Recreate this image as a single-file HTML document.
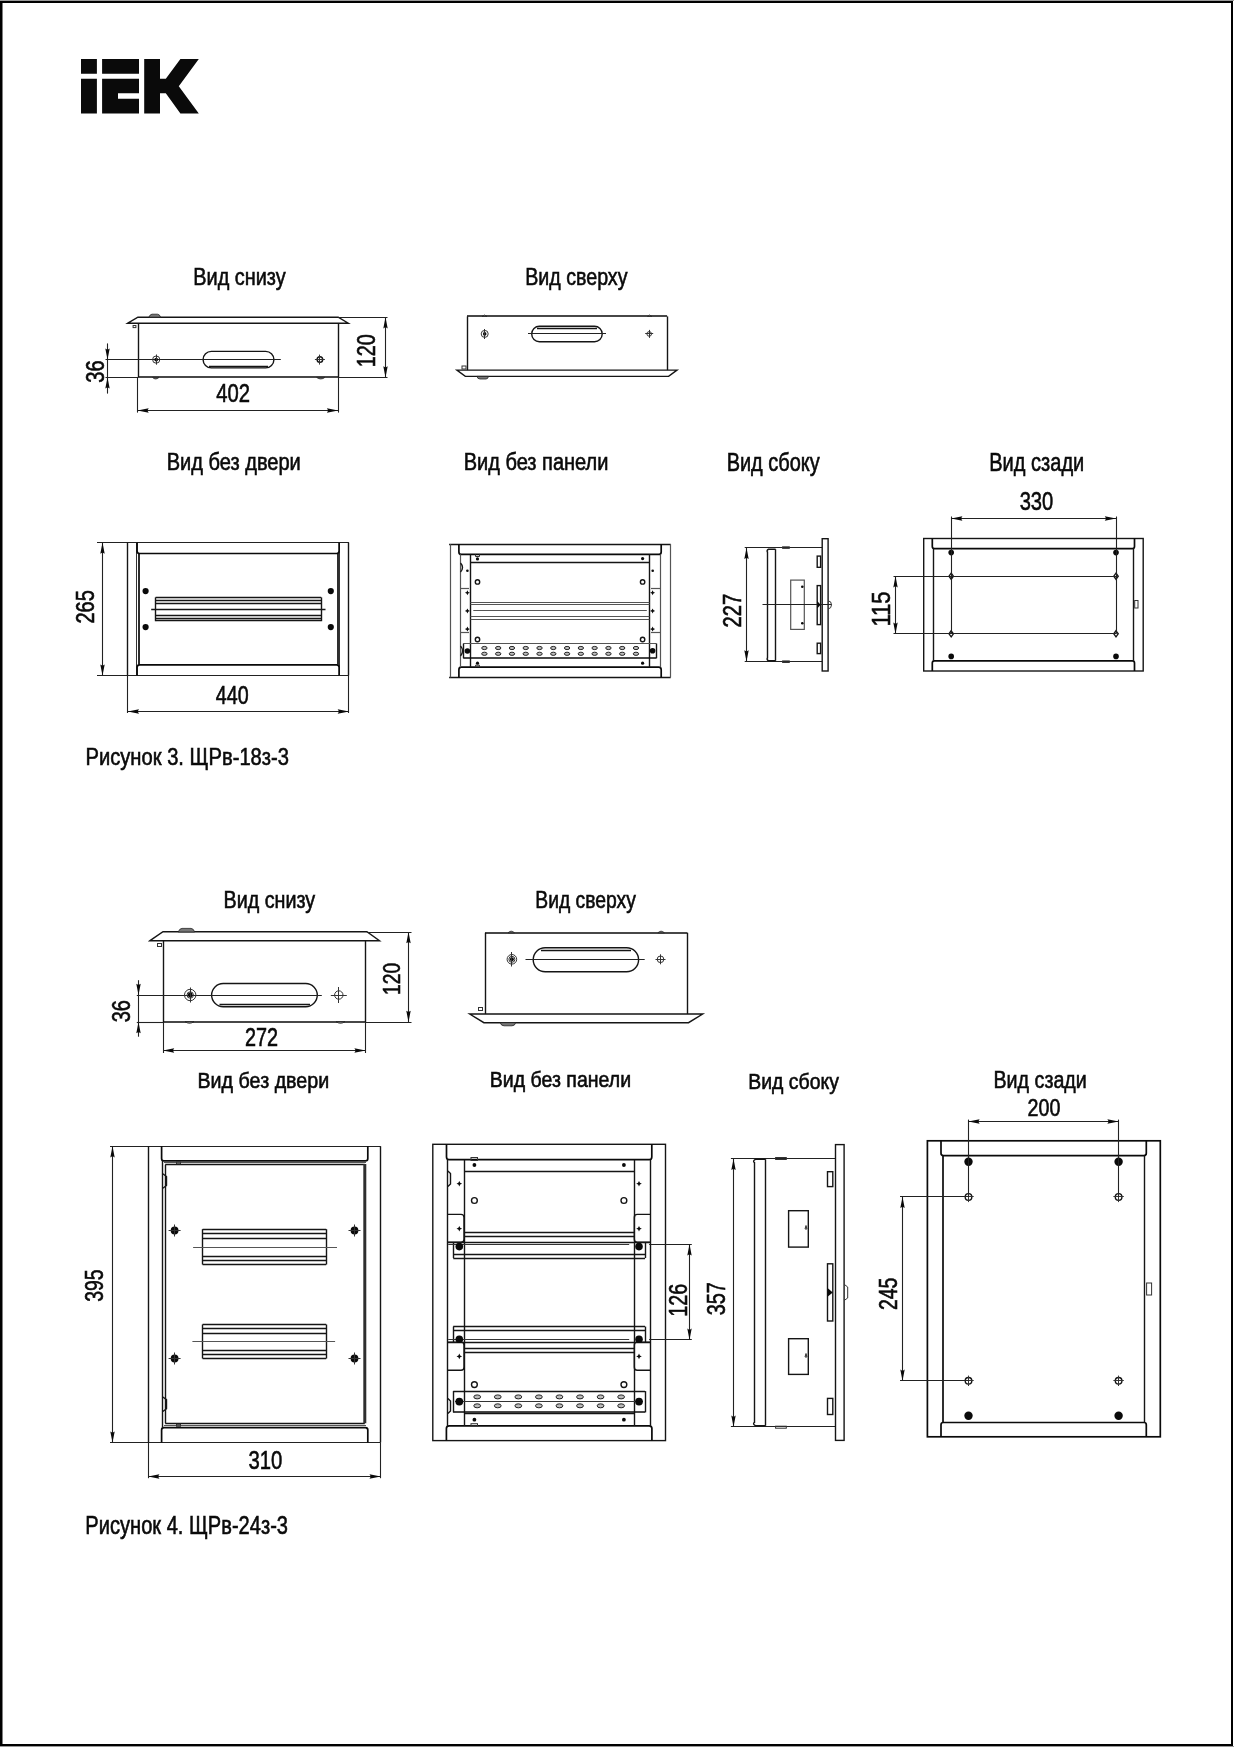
<!DOCTYPE html>
<html><head><meta charset="utf-8"><title>IEK ЩРв</title>
<style>
html,body{margin:0;padding:0;background:#fff;}
body{width:1234px;height:1747px;overflow:hidden;position:relative;}
svg{position:absolute;left:0;top:0;display:block;filter:grayscale(1);}
.k{fill:none;stroke:#0a0a0a;stroke-width:1.7;}
.n{fill:none;stroke:#151515;stroke-width:1.4;}
.g{fill:none;stroke:#333;stroke-width:1.0;}
.d{fill:none;stroke:#222;stroke-width:1.1;}
.fill{fill:#0a0a0a;stroke:none;}
.gf{fill:#777;stroke:#222;stroke-width:0.8;}
.o{fill:none;stroke:#555;stroke-width:1.2;}
.ov{fill:#bbb;stroke:#111;stroke-width:0.9;}
text{font-family:"Liberation Sans",sans-serif;fill:#0a0a0a;stroke:#0a0a0a;stroke-width:0.6;}
</style></head>
<body>
<svg width="1234" height="1747" viewBox="0 0 1234 1747">
<rect x="0" y="0" width="1234" height="1" fill="#999"/>
<rect x="0" y="1746" width="1234" height="1" fill="#999"/>
<rect x="0" y="1" width="1233" height="2" fill="#000"/>
<rect x="0" y="1744" width="1233" height="2" fill="#000"/>
<rect x="0" y="1" width="2.5" height="1745" fill="#000"/>
<rect x="1231" y="1" width="2" height="1745" fill="#000"/>
<path class="fill" d="M81,59H96.9V73.7H81Z M81,78.8H96.9V113.5H81Z M102.1,59H139V73.7H102.1Z M102.1,78.8H139V93.2H118V98.7H139V113.5H102.1Z M144.2,59H160V78.8H165.8L180.4,59H198.8L178.8,86.3L198.8,113.5H180.4L165.8,93.2H160V113.5H144.2Z"/>
<path class="n" d="M127.8,323.2 L137.9,317.2 H338.2 L348.3,323.2 Z"/>
<path class="gf" d="M148.9,317.2 Q150,314.2 152,314.2 H157.5 Q159.6,314.2 160.6,317.2 Z"/>
<line class="n" x1="138.5" y1="323.2" x2="138.5" y2="377.4"/>
<line class="n" x1="338.5" y1="323.2" x2="338.5" y2="377.4"/>
<line class="k" x1="138.1" y1="377" x2="338.1" y2="377"/>
<rect class="g" x="133.1" y="325.5" width="2.8" height="2.1"/>
<path class="gf" d="M152.5,377.4 Q155.7,380.5 159,377.4 Z"/>
<path class="gf" d="M316.6,377.4 Q320.7,380.5 324.9,377.4 Z"/>
<rect class="n" x="203.1" y="351.4" width="70.8" height="16.5" rx="8.2"/>
<line class="n" x1="209" y1="366.5" x2="268" y2="366.5"/>
<line class="d" x1="105.5" y1="359.5" x2="280.8" y2="359.5"/>
<circle class="g" cx="156.2" cy="359.6" r="3.6"/>
<circle class="fill" cx="156.2" cy="359.6" r="1.9"/>
<line class="g" x1="156.5" y1="354.5" x2="156.5" y2="364.7"/>
<circle class="n" cx="319.9" cy="359.6" r="2.8"/>
<line class="g" x1="314.9" y1="359.5" x2="324.9" y2="359.5"/>
<line class="g" x1="319.5" y1="354.6" x2="319.5" y2="364.6"/>
<line class="d" x1="107.5" y1="343.4" x2="107.5" y2="393.6"/>
<polygon class="fill" points="107.5,359.6 105.3,348.4 107.5,349.7 109.7,348.4"/>
<polygon class="fill" points="107.5,377.4 105.3,388.6 107.5,387.3 109.7,388.6"/>
<line class="d" x1="105.5" y1="377.5" x2="138.1" y2="377.5"/>
<line class="d" x1="385.5" y1="317.2" x2="385.5" y2="377.4"/>
<polygon class="fill" points="385.5,317.2 383.3,328.4 385.5,327.1 387.7,328.4"/>
<polygon class="fill" points="385.5,377.4 383.3,366.2 385.5,367.5 387.7,366.2"/>
<line class="d" x1="338.2" y1="317.5" x2="387.5" y2="317.5"/>
<line class="d" x1="338.1" y1="377.5" x2="387.5" y2="377.5"/>
<line class="d" x1="137.5" y1="410.5" x2="338.1" y2="410.5"/>
<polygon class="fill" points="137.5,410.5 148.7,408.3 147.4,410.5 148.7,412.7"/>
<polygon class="fill" points="338.1,410.5 326.9,408.3 328.2,410.5 326.9,412.7"/>
<line class="d" x1="137.5" y1="377.4" x2="137.5" y2="412.6"/>
<line class="d" x1="338.5" y1="377.4" x2="338.5" y2="412.6"/>
<line class="n" x1="467.5" y1="316.4" x2="467.5" y2="370.1"/>
<line class="n" x1="667.5" y1="316.4" x2="667.5" y2="370.1"/>
<line class="k" x1="467" y1="316" x2="667.1" y2="316"/>
<path class="n" d="M456.9,370.1 H677 L668.6,376.4 H465.3 Z"/>
<path class="gf" d="M482,316.4 Q484.5,313.6 487,316.4 Z"/>
<path class="gf" d="M647.5,316.4 Q649.6,313.6 651.8,316.4 Z"/>
<path class="gf" d="M476.9,376.4 Q477.5,379 480,379 H486 Q488,379 488.5,376.4 Z"/>
<rect class="g" x="462" y="366" width="4" height="3"/>
<rect class="n" x="531.7" y="326.3" width="70.5" height="15.4" rx="7.7"/>
<line class="n" x1="537" y1="328.5" x2="597" y2="328.5"/>
<line class="d" x1="528" y1="333.5" x2="606" y2="333.5"/>
<circle class="g" cx="484.7" cy="333.9" r="3.5"/>
<circle class="fill" cx="484.7" cy="333.9" r="1.8"/>
<line class="g" x1="484.5" y1="329" x2="484.5" y2="339"/>
<circle class="g" cx="649.2" cy="333.9" r="2.3"/>
<line class="g" x1="645.2" y1="333.5" x2="653.2" y2="333.5"/>
<line class="g" x1="649.5" y1="329.9" x2="649.5" y2="337.9"/>
<line class="d" x1="97" y1="542.5" x2="348.9" y2="542.5"/>
<line class="d" x1="97" y1="675.5" x2="348.9" y2="675.5"/>
<line class="n" x1="127.5" y1="542.5" x2="127.5" y2="675.6"/>
<line class="n" x1="348.5" y1="542.5" x2="348.5" y2="675.6"/>
<line class="g" x1="136.5" y1="542.5" x2="136.5" y2="675.6"/>
<line class="g" x1="339.5" y1="542.5" x2="339.5" y2="675.6"/>
<path class="k" d="M137.1,542.5 V551 Q137.1,553.5 139.6,553.5 H336.6 Q339.1,553.5 339.1,551 V542.5"/>
<path class="k" d="M137.1,675.6 V667.3 Q137.1,664.8 139.6,664.8 H336.6 Q339.1,664.8 339.1,667.3 V675.6"/>
<line class="k" x1="139" y1="553.5" x2="139" y2="664.8"/>
<line class="k" x1="338" y1="553.5" x2="338" y2="664.8"/>
<circle class="fill" cx="145.6" cy="591.1" r="3.1"/>
<circle class="fill" cx="330.8" cy="591.1" r="3.1"/>
<circle class="fill" cx="145.6" cy="627.1" r="3.1"/>
<circle class="fill" cx="330.8" cy="627.1" r="3.1"/>
<line class="n" x1="155.5" y1="597.4" x2="155.5" y2="621.2"/>
<line class="n" x1="321.5" y1="597.4" x2="321.5" y2="621.2"/>
<line class="n" x1="155.6" y1="597.5" x2="321.2" y2="597.5"/>
<line class="n" x1="155.6" y1="600.5" x2="321.2" y2="600.5"/>
<line class="n" x1="155.6" y1="603.5" x2="321.2" y2="603.5"/>
<line class="n" x1="155.6" y1="615.5" x2="321.2" y2="615.5"/>
<line class="n" x1="155.6" y1="618.5" x2="321.2" y2="618.5"/>
<line class="n" x1="155.6" y1="620.5" x2="321.2" y2="620.5"/>
<line class="n" x1="151.2" y1="609.5" x2="325.5" y2="609.5"/>
<line class="d" x1="102.5" y1="542.5" x2="102.5" y2="675.6"/>
<polygon class="fill" points="102.5,542.5 100.3,553.7 102.5,552.4 104.7,553.7"/>
<polygon class="fill" points="102.5,675.6 100.3,664.4 102.5,665.7 104.7,664.4"/>
<line class="d" x1="127.8" y1="711.5" x2="348.9" y2="711.5"/>
<polygon class="fill" points="127.8,711.5 139,709.3 137.7,711.5 139,713.7"/>
<polygon class="fill" points="348.9,711.5 337.7,709.3 339,711.5 337.7,713.7"/>
<line class="d" x1="127.5" y1="675.6" x2="127.5" y2="713"/>
<line class="d" x1="348.5" y1="675.6" x2="348.5" y2="713"/>
<line class="n" x1="449.1" y1="544.5" x2="670.7" y2="544.5"/>
<line class="n" x1="449.1" y1="677.5" x2="670.7" y2="677.5"/>
<line class="o" x1="450.5" y1="544.2" x2="450.5" y2="677.4"/>
<line class="o" x1="670.5" y1="544.2" x2="670.5" y2="677.4"/>
<path class="k" d="M458.9,544.2 V551.9 Q458.9,554.4 461.4,554.4 H658.7 Q661.2,554.4 661.2,551.9 V544.2"/>
<path class="k" d="M458.9,677.4 V669.7 Q458.9,667.2 461.4,667.2 H658.7 Q661.2,667.2 661.2,669.7 V677.4"/>
<line class="o" x1="460.5" y1="554.4" x2="460.5" y2="667.2"/>
<line class="o" x1="660.5" y1="554.4" x2="660.5" y2="667.2"/>
<line class="n" x1="470.5" y1="554.4" x2="470.5" y2="667.2"/>
<line class="n" x1="649.5" y1="554.4" x2="649.5" y2="667.2"/>
<line class="n" x1="470.5" y1="562.5" x2="649.5" y2="562.5"/>
<line class="o" x1="460.1" y1="588.5" x2="469" y2="588.5"/>
<line class="o" x1="651" y1="588.5" x2="660.3" y2="588.5"/>
<line class="o" x1="460.1" y1="632.5" x2="469" y2="632.5"/>
<line class="o" x1="651" y1="632.5" x2="660.3" y2="632.5"/>
<line class="o" x1="470.5" y1="602.5" x2="649.5" y2="602.5"/>
<line class="o" x1="470.5" y1="604.5" x2="649.5" y2="604.5"/>
<line class="o" x1="470.5" y1="616.5" x2="649.5" y2="616.5"/>
<line class="o" x1="470.5" y1="619.5" x2="649.5" y2="619.5"/>
<line class="o" x1="473.3" y1="610.5" x2="646.8" y2="610.5"/>
<circle class="n" cx="477.5" cy="581.9" r="2.2"/>
<circle class="n" cx="642.6" cy="581.9" r="2.2"/>
<circle class="n" cx="477.5" cy="639.5" r="2.2"/>
<circle class="n" cx="642.6" cy="639.5" r="2.2"/>
<circle class="fill" cx="477.5" cy="558.9" r="1.6"/>
<circle class="fill" cx="642.6" cy="558.6" r="1.6"/>
<circle class="fill" cx="477.5" cy="663.2" r="1.6"/>
<circle class="fill" cx="642.6" cy="663.2" r="1.6"/>
<circle class="fill" cx="467.4" cy="570.7" r="1.3"/>
<circle class="fill" cx="652.7" cy="570.8" r="1.3"/>
<path class="g" d="M475.5,554.4 V556.5 H479.5 V554.4"/>
<path class="g" d="M475.5,667.2 V665.2 H479.5 V667.2"/>
<path class="fill" d="M467.4,590.3 L468.22,591.97 L469.9,592.8 L468.22,593.62 L467.4,595.3 L466.57,593.62 L464.9,592.8 L466.57,591.97 Z"/>
<path class="fill" d="M467.4,608.4 L468.22,610.07 L469.9,610.9 L468.22,611.73 L467.4,613.4 L466.57,611.73 L464.9,610.9 L466.57,610.07 Z"/>
<path class="fill" d="M467.4,626.6 L468.22,628.27 L469.9,629.1 L468.22,629.93 L467.4,631.6 L466.57,629.93 L464.9,629.1 L466.57,628.27 Z"/>
<path class="fill" d="M652.6,590.3 L653.43,591.97 L655.1,592.8 L653.43,593.62 L652.6,595.3 L651.77,593.62 L650.1,592.8 L651.77,591.97 Z"/>
<path class="fill" d="M652.6,608.4 L653.43,610.07 L655.1,610.9 L653.43,611.73 L652.6,613.4 L651.77,611.73 L650.1,610.9 L651.77,610.07 Z"/>
<path class="fill" d="M652.6,626.6 L653.43,628.27 L655.1,629.1 L653.43,629.93 L652.6,631.6 L651.77,629.93 L650.1,629.1 L651.77,628.27 Z"/>
<line class="o" x1="463.3" y1="643.5" x2="656.5" y2="643.5"/>
<line class="k" x1="463.3" y1="658" x2="656.5" y2="658"/>
<line class="n" x1="463.5" y1="643.6" x2="463.5" y2="658.2"/>
<line class="n" x1="656.5" y1="643.6" x2="656.5" y2="658.2"/>
<circle class="fill" cx="467.4" cy="651" r="2.8"/>
<circle class="fill" cx="652.6" cy="650.8" r="2.8"/>
<ellipse class="ov" cx="484.4" cy="648" rx="2.7" ry="1.6"/>
<ellipse class="ov" cx="484.4" cy="653.8" rx="2.7" ry="1.6"/>
<ellipse class="ov" cx="498.18" cy="648" rx="2.7" ry="1.6"/>
<ellipse class="ov" cx="498.18" cy="653.8" rx="2.7" ry="1.6"/>
<ellipse class="ov" cx="511.96" cy="648" rx="2.7" ry="1.6"/>
<ellipse class="ov" cx="511.96" cy="653.8" rx="2.7" ry="1.6"/>
<ellipse class="ov" cx="525.74" cy="648" rx="2.7" ry="1.6"/>
<ellipse class="ov" cx="525.74" cy="653.8" rx="2.7" ry="1.6"/>
<ellipse class="ov" cx="539.52" cy="648" rx="2.7" ry="1.6"/>
<ellipse class="ov" cx="539.52" cy="653.8" rx="2.7" ry="1.6"/>
<ellipse class="ov" cx="553.3" cy="648" rx="2.7" ry="1.6"/>
<ellipse class="ov" cx="553.3" cy="653.8" rx="2.7" ry="1.6"/>
<ellipse class="ov" cx="567.08" cy="648" rx="2.7" ry="1.6"/>
<ellipse class="ov" cx="567.08" cy="653.8" rx="2.7" ry="1.6"/>
<ellipse class="ov" cx="580.86" cy="648" rx="2.7" ry="1.6"/>
<ellipse class="ov" cx="580.86" cy="653.8" rx="2.7" ry="1.6"/>
<ellipse class="ov" cx="594.64" cy="648" rx="2.7" ry="1.6"/>
<ellipse class="ov" cx="594.64" cy="653.8" rx="2.7" ry="1.6"/>
<ellipse class="ov" cx="608.42" cy="648" rx="2.7" ry="1.6"/>
<ellipse class="ov" cx="608.42" cy="653.8" rx="2.7" ry="1.6"/>
<ellipse class="ov" cx="622.2" cy="648" rx="2.7" ry="1.6"/>
<ellipse class="ov" cx="622.2" cy="653.8" rx="2.7" ry="1.6"/>
<ellipse class="ov" cx="635.98" cy="648" rx="2.7" ry="1.6"/>
<ellipse class="ov" cx="635.98" cy="653.8" rx="2.7" ry="1.6"/>
<path class="n" d="M460.5,563 Q462.5,565 462.5,567.5 Q462.5,570 460.5,572"/>
<path class="n" d="M460.5,646 Q462.5,648 462.5,651 Q462.5,654 460.5,656"/>
<line class="d" x1="744.7" y1="547.5" x2="822.1" y2="547.5"/>
<line class="d" x1="744.7" y1="661.5" x2="822.1" y2="661.5"/>
<line class="n" x1="767.5" y1="551.5" x2="767.5" y2="658.5"/>
<line class="n" x1="775.5" y1="549.2" x2="775.5" y2="660.8"/>
<path class="n" d="M767.4,552 Q766.5,550.5 768.5,549.2 H775.6"/>
<path class="n" d="M767.4,658 Q766.5,659.5 768.5,660.8 H775.6"/>
<rect class="g" x="782.6" y="546.8" width="6.7" height="1.6"/>
<rect class="g" x="782.6" y="660.9" width="6.7" height="1.6"/>
<rect class="n" x="822.2" y="538.7" width="5.9" height="132.3"/>
<rect class="n" x="817.2" y="556.1" width="3.4" height="11.2"/>
<rect class="n" x="817.2" y="585.6" width="3.4" height="39"/>
<rect class="n" x="817.2" y="643.2" width="3.4" height="10.4"/>
<rect class="o" x="790.7" y="580.1" width="13.6" height="49.3"/>
<circle class="fill" cx="802.3" cy="586.8" r="1.3"/>
<circle class="fill" cx="802.3" cy="623.2" r="1.3"/>
<line class="d" x1="762.5" y1="604.5" x2="831.8" y2="604.5"/>
<path class="g" d="M828,600.8 Q831.5,601 831.5,604.8 Q831.5,608.6 828,609"/>
<path class="fill" d="M817.2,601 L820.6,604.8 L817.2,608.6 Z"/>
<line class="d" x1="746.5" y1="547.9" x2="746.5" y2="661.4"/>
<polygon class="fill" points="746.5,547.9 744.3,559.1 746.5,557.8 748.7,559.1"/>
<polygon class="fill" points="746.5,661.4 744.3,650.2 746.5,651.5 748.7,650.2"/>
<rect class="n" x="923.7" y="538.5" width="219.5" height="132.5"/>
<path class="k" d="M932.3,538.5 V546.5 Q932.3,548.7 934.5,548.7 H1132.3 Q1134.5,548.7 1134.5,546.5 V538.5"/>
<path class="k" d="M932.3,671 V663 Q932.3,660.8 934.5,660.8 H1132.3 Q1134.5,660.8 1134.5,663 V671"/>
<line class="n" x1="933.5" y1="548.7" x2="933.5" y2="660.8"/>
<line class="n" x1="1133.5" y1="548.7" x2="1133.5" y2="660.8"/>
<circle class="fill" cx="951.2" cy="552.6" r="2.8"/>
<circle class="fill" cx="1116" cy="552.6" r="2.8"/>
<circle class="fill" cx="951.2" cy="656.4" r="2.8"/>
<circle class="fill" cx="1116" cy="656.4" r="2.8"/>
<path class="n" d="M951.2,573.2 L953.4000000000001,576.2 L951.2,579.2 L949.0,576.2 Z"/>
<path class="n" d="M1116,573.2 L1118.2,576.2 L1116,579.2 L1113.8,576.2 Z"/>
<path class="n" d="M951.2,630.8 L953.4000000000001,633.8 L951.2,636.8 L949.0,633.8 Z"/>
<path class="n" d="M1116,630.8 L1118.2,633.8 L1116,636.8 L1113.8,633.8 Z"/>
<line class="d" x1="893.5" y1="576.5" x2="1116" y2="576.5"/>
<line class="d" x1="893.5" y1="633.5" x2="1116" y2="633.5"/>
<line class="d" x1="951.5" y1="516.5" x2="951.5" y2="633.8"/>
<line class="d" x1="1116.5" y1="516.5" x2="1116.5" y2="633.8"/>
<line class="d" x1="951.2" y1="518.5" x2="1116" y2="518.5"/>
<polygon class="fill" points="951.2,518.5 962.4,516.3 961.1,518.5 962.4,520.7"/>
<polygon class="fill" points="1116,518.5 1104.8,516.3 1106.1,518.5 1104.8,520.7"/>
<line class="d" x1="895.5" y1="576.2" x2="895.5" y2="633.8"/>
<polygon class="fill" points="895.5,576.2 893.3,587.4 895.5,586.1 897.7,587.4"/>
<polygon class="fill" points="895.5,633.8 893.3,622.6 895.5,623.9 897.7,622.6"/>
<rect class="g" x="1134.7" y="600.5" width="3.3" height="7.5"/>
<path class="n" d="M150,940.7 L163,931.7 H366.9 L379.5,940.7 Z"/>
<path class="gf" d="M178.2,932 Q179.5,928.4 182,928.4 H191 Q193.5,928.4 194.7,932 Z"/>
<line class="n" x1="163.5" y1="940.7" x2="163.5" y2="1022"/>
<line class="n" x1="365.5" y1="940.7" x2="365.5" y2="1022"/>
<line class="k" x1="163" y1="1022" x2="365.6" y2="1022"/>
<rect class="g" x="157.5" y="943.5" width="4" height="3"/>
<path class="gf" d="M185,1021.6 Q189.5,1025 194,1021.6 Z"/>
<path class="gf" d="M336,1021.6 Q340.5,1025 345,1021.6 Z"/>
<rect class="n" x="211.6" y="983.5" width="105.7" height="23.2" rx="11.6"/>
<line class="n" x1="219.5" y1="1004.5" x2="310" y2="1004.5"/>
<line class="d" x1="136.8" y1="995.5" x2="321.8" y2="995.5"/>
<circle class="g" cx="190.2" cy="995" r="5.7"/>
<circle class="g" cx="190.2" cy="995" r="3.2"/>
<circle class="fill" cx="190.2" cy="995" r="2.4"/>
<line class="g" x1="190.5" y1="987.5" x2="190.5" y2="1002.5"/>
<circle class="g" cx="338.8" cy="995" r="4.2"/>
<line class="g" x1="330.8" y1="995.5" x2="346.8" y2="995.5"/>
<line class="g" x1="338.5" y1="987" x2="338.5" y2="1003"/>
<line class="d" x1="138.5" y1="980.2" x2="138.5" y2="1036.7"/>
<polygon class="fill" points="138.5,995 136.3,983.8 138.5,985.1 140.7,983.8"/>
<polygon class="fill" points="138.5,1022 136.3,1033.2 138.5,1031.9 140.7,1033.2"/>
<line class="d" x1="136.8" y1="1022.5" x2="163" y2="1022.5"/>
<line class="d" x1="408.5" y1="932" x2="408.5" y2="1022"/>
<polygon class="fill" points="408.5,932 406.3,943.2 408.5,941.9 410.7,943.2"/>
<polygon class="fill" points="408.5,1022 406.3,1010.8 408.5,1012.1 410.7,1010.8"/>
<line class="d" x1="366.9" y1="932.5" x2="411.5" y2="932.5"/>
<line class="d" x1="365.6" y1="1022.5" x2="411.5" y2="1022.5"/>
<line class="d" x1="163" y1="1050.5" x2="365.6" y2="1050.5"/>
<polygon class="fill" points="163,1050.5 174.2,1048.3 172.9,1050.5 174.2,1052.7"/>
<polygon class="fill" points="365.6,1050.5 354.4,1048.3 355.7,1050.5 354.4,1052.7"/>
<line class="d" x1="163.5" y1="1022" x2="163.5" y2="1053"/>
<line class="d" x1="365.5" y1="1022" x2="365.5" y2="1053"/>
<line class="n" x1="485.5" y1="932.8" x2="485.5" y2="1014"/>
<line class="n" x1="687.5" y1="932.8" x2="687.5" y2="1014"/>
<line class="k" x1="485" y1="933" x2="687.4" y2="933"/>
<path class="n" d="M469.7,1014 H702.7 L688.5,1022.7 H483.9 Z"/>
<path class="gf" d="M508,932.8 Q511.2,929.6 514.5,932.8 Z"/>
<path class="gf" d="M657.9,932.8 Q661.1,929.6 664.4,932.8 Z"/>
<path class="gf" d="M500.3,1022.7 Q501,1025.8 504,1025.8 H512 Q515,1025.8 515.6,1022.7 Z"/>
<rect class="g" x="478.5" y="1007.5" width="4" height="3"/>
<rect class="n" x="533.2" y="947.7" width="105.4" height="24.1" rx="12"/>
<line class="n" x1="541" y1="950.5" x2="631" y2="950.5"/>
<line class="d" x1="525.5" y1="959.5" x2="644.7" y2="959.5"/>
<circle class="g" cx="511.9" cy="959.3" r="4.8"/>
<circle class="g" cx="511.9" cy="959.3" r="3"/>
<circle class="fill" cx="511.9" cy="959.3" r="2"/>
<line class="g" x1="511.5" y1="952" x2="511.5" y2="966.5"/>
<circle class="g" cx="660.5" cy="959.3" r="3.3"/>
<line class="g" x1="655.5" y1="959.5" x2="665.5" y2="959.5"/>
<line class="g" x1="660.5" y1="954.3" x2="660.5" y2="964.3"/>
<line class="d" x1="110" y1="1146.5" x2="380.7" y2="1146.5"/>
<line class="d" x1="110" y1="1442.5" x2="380.7" y2="1442.5"/>
<line class="n" x1="148.5" y1="1146.2" x2="148.5" y2="1442.6"/>
<line class="n" x1="380.5" y1="1146.2" x2="380.5" y2="1442.6"/>
<path class="k" d="M161.6,1146.2 V1158.4 Q161.6,1160.8 164,1160.8 H365.4 Q367.8,1160.8 367.8,1158.4 V1146.2"/>
<path class="k" d="M161.6,1442.6 V1430 Q161.6,1427.6 164,1427.6 H365.4 Q367.8,1427.6 367.8,1430 V1442.6"/>
<line class="o" x1="164" y1="1162.5" x2="366" y2="1162.5"/>
<line class="n" x1="165.2" y1="1164.5" x2="364.8" y2="1164.5"/>
<line class="n" x1="165.2" y1="1423.5" x2="364.8" y2="1423.5"/>
<line class="o" x1="164" y1="1425.5" x2="366" y2="1425.5"/>
<rect x="176.5" y="1161.8" width="4" height="2" class="g"/>
<rect x="176.5" y="1424.3" width="4" height="2" class="g"/>
<line class="n" x1="162.5" y1="1160.8" x2="162.5" y2="1427.6"/>
<line class="n" x1="165.5" y1="1164.8" x2="165.5" y2="1423.3"/>
<line x1="364.8" y1="1164" x2="364.8" y2="1423.3" stroke="#2a2f38" stroke-width="3"/>
<circle class="fill" cx="174.6" cy="1230.5" r="3.9"/>
<line class="g" x1="168.6" y1="1230.5" x2="180.6" y2="1230.5"/>
<line class="g" x1="174.5" y1="1224.5" x2="174.5" y2="1236.5"/>
<circle class="fill" cx="354.5" cy="1230.5" r="3.9"/>
<line class="g" x1="348.5" y1="1230.5" x2="360.5" y2="1230.5"/>
<line class="g" x1="354.5" y1="1224.5" x2="354.5" y2="1236.5"/>
<circle class="fill" cx="174.6" cy="1358.5" r="3.9"/>
<line class="g" x1="168.6" y1="1358.5" x2="180.6" y2="1358.5"/>
<line class="g" x1="174.5" y1="1352.5" x2="174.5" y2="1364.5"/>
<circle class="fill" cx="354.5" cy="1358.5" r="3.9"/>
<line class="g" x1="348.5" y1="1358.5" x2="360.5" y2="1358.5"/>
<line class="g" x1="354.5" y1="1352.5" x2="354.5" y2="1364.5"/>
<line class="n" x1="202.5" y1="1229.2" x2="202.5" y2="1264.5"/>
<line class="n" x1="326.5" y1="1229.2" x2="326.5" y2="1264.5"/>
<line class="n" x1="202.6" y1="1229.5" x2="326.2" y2="1229.5"/>
<line class="n" x1="202.6" y1="1233.5" x2="326.2" y2="1233.5"/>
<line class="n" x1="202.6" y1="1238.5" x2="326.2" y2="1238.5"/>
<line class="n" x1="202.6" y1="1256.5" x2="326.2" y2="1256.5"/>
<line class="n" x1="202.6" y1="1260.5" x2="326.2" y2="1260.5"/>
<line class="n" x1="202.6" y1="1264.5" x2="326.2" y2="1264.5"/>
<line class="n" x1="202.5" y1="1324.5" x2="202.5" y2="1358.5"/>
<line class="n" x1="326.5" y1="1324.5" x2="326.5" y2="1358.5"/>
<line class="n" x1="202.6" y1="1324.5" x2="326.2" y2="1324.5"/>
<line class="n" x1="202.6" y1="1328.5" x2="326.2" y2="1328.5"/>
<line class="n" x1="202.6" y1="1333.5" x2="326.2" y2="1333.5"/>
<line class="n" x1="202.6" y1="1350.5" x2="326.2" y2="1350.5"/>
<line class="n" x1="202.6" y1="1354.5" x2="326.2" y2="1354.5"/>
<line class="n" x1="202.6" y1="1358.5" x2="326.2" y2="1358.5"/>
<line class="o" x1="193.1" y1="1247.5" x2="337" y2="1247.5"/>
<line class="o" x1="192.4" y1="1341.5" x2="335.1" y2="1341.5"/>
<path class="n" d="M162.8,1173.8 L166.5,1176.5 V1185.5 L162.8,1188.3"/>
<path class="n" d="M162.8,1397 L166.5,1399.7 V1408.7 L162.8,1411.5"/>
<line class="d" x1="112.5" y1="1146.2" x2="112.5" y2="1442.6"/>
<polygon class="fill" points="112.5,1146.2 110.3,1157.4 112.5,1156.1 114.7,1157.4"/>
<polygon class="fill" points="112.5,1442.6 110.3,1431.4 112.5,1432.7 114.7,1431.4"/>
<line class="d" x1="148.2" y1="1476.5" x2="380.7" y2="1476.5"/>
<polygon class="fill" points="148.2,1476.5 159.4,1474.3 158.1,1476.5 159.4,1478.7"/>
<polygon class="fill" points="380.7,1476.5 369.5,1474.3 370.8,1476.5 369.5,1478.7"/>
<line class="d" x1="148.5" y1="1442.6" x2="148.5" y2="1478.2"/>
<line class="d" x1="380.5" y1="1442.6" x2="380.5" y2="1478.2"/>
<rect class="n" x="432.8" y="1144.3" width="232.7" height="296.3"/>
<path class="k" d="M446.5,1144.3 V1157 Q446.5,1159.7 449.2,1159.7 H649.1 Q651.8,1159.7 651.8,1157 V1144.3"/>
<path class="k" d="M446.4,1440.6 V1428.6 Q446.4,1425.9 449.1,1425.9 H649.2 Q651.9,1425.9 651.9,1428.6 V1440.6"/>
<line class="n" x1="447.5" y1="1159.7" x2="447.5" y2="1425.9"/>
<line class="n" x1="650.5" y1="1159.7" x2="650.5" y2="1425.9"/>
<line class="n" x1="464.5" y1="1159.7" x2="464.5" y2="1425.9"/>
<line class="n" x1="634.5" y1="1159.7" x2="634.5" y2="1425.9"/>
<line class="n" x1="464" y1="1171.5" x2="634.3" y2="1171.5"/>
<line class="n" x1="464" y1="1232.5" x2="634.3" y2="1232.5"/>
<line class="n" x1="464" y1="1236.5" x2="634.3" y2="1236.5"/>
<line class="n" x1="447.9" y1="1242.5" x2="650.4" y2="1242.5"/>
<line class="n" x1="453.3" y1="1254.5" x2="645" y2="1254.5"/>
<line class="n" x1="453.3" y1="1258.5" x2="645" y2="1258.5"/>
<line class="n" x1="453.5" y1="1242.3" x2="453.5" y2="1258.1"/>
<line class="n" x1="645.5" y1="1242.3" x2="645.5" y2="1258.1"/>
<line class="n" x1="453.2" y1="1326.5" x2="645.1" y2="1326.5"/>
<line class="n" x1="453.2" y1="1330.5" x2="645.1" y2="1330.5"/>
<line class="n" x1="447.9" y1="1342.5" x2="650.4" y2="1342.5"/>
<line class="n" x1="453.5" y1="1326.6" x2="453.5" y2="1342.1"/>
<line class="n" x1="645.5" y1="1326.6" x2="645.5" y2="1342.1"/>
<line class="n" x1="464" y1="1348.5" x2="634.3" y2="1348.5"/>
<line class="n" x1="464" y1="1352.5" x2="634.3" y2="1352.5"/>
<path class="n" d="M447.9,1214.4 H461 Q464,1214.4 464,1217.4 V1239.3 Q464,1242.3 461,1242.3 H447.9"/>
<path class="n" d="M650.4,1214.4 H637.3 Q634.3,1214.4 634.3,1217.4 V1239.3 Q634.3,1242.3 637.3,1242.3 H650.4"/>
<path class="n" d="M447.9,1342.1 H461 Q464,1342.1 464,1345.1 V1367.3 Q464,1370.3 461,1370.3 H447.9"/>
<path class="n" d="M650.4,1342.1 H637.3 Q634.3,1342.1 634.3,1345.1 V1367.3 Q634.3,1370.3 637.3,1370.3 H650.4"/>
<line class="g" x1="448.2" y1="1244.5" x2="629.2" y2="1244.5"/>
<line class="g" x1="448.2" y1="1339.5" x2="629.2" y2="1339.5"/>
<line class="d" x1="649.1" y1="1244.5" x2="691.8" y2="1244.5"/>
<line class="d" x1="649.1" y1="1339.5" x2="691.8" y2="1339.5"/>
<circle class="fill" cx="459.3" cy="1246.6" r="3.8"/>
<circle class="fill" cx="639" cy="1246.6" r="3.8"/>
<circle class="fill" cx="459.3" cy="1339.3" r="3.8"/>
<circle class="fill" cx="639" cy="1339.3" r="3.8"/>
<circle class="n" cx="474.4" cy="1200.5" r="2.9"/>
<circle class="n" cx="623.9" cy="1200.5" r="2.9"/>
<circle class="n" cx="474.4" cy="1384.6" r="2.9"/>
<circle class="n" cx="623.9" cy="1384.6" r="2.9"/>
<circle class="fill" cx="474.4" cy="1165" r="1.9"/>
<circle class="fill" cx="623.9" cy="1165" r="1.9"/>
<circle class="fill" cx="474.4" cy="1419.7" r="1.9"/>
<circle class="fill" cx="623.9" cy="1419.7" r="1.9"/>
<rect class="g" x="471" y="1157.5" width="6.5" height="3"/>
<rect class="g" x="471" y="1423.7" width="6.5" height="2.2"/>
<path class="fill" d="M459.3,1180.9 L460.22,1182.78 L462.1,1183.7 L460.22,1184.62 L459.3,1186.5 L458.38,1184.62 L456.5,1183.7 L458.38,1182.78 Z"/>
<path class="fill" d="M639,1180.9 L639.92,1182.78 L641.8,1183.7 L639.92,1184.62 L639,1186.5 L638.08,1184.62 L636.2,1183.7 L638.08,1182.78 Z"/>
<path class="fill" d="M459.3,1225.9 L460.22,1227.78 L462.1,1228.7 L460.22,1229.62 L459.3,1231.5 L458.38,1229.62 L456.5,1228.7 L458.38,1227.78 Z"/>
<path class="fill" d="M639,1225.9 L639.92,1227.78 L641.8,1228.7 L639.92,1229.62 L639,1231.5 L638.08,1229.62 L636.2,1228.7 L638.08,1227.78 Z"/>
<path class="fill" d="M459.3,1353.6 L460.22,1355.48 L462.1,1356.4 L460.22,1357.32 L459.3,1359.2 L458.38,1357.32 L456.5,1356.4 L458.38,1355.48 Z"/>
<path class="fill" d="M639,1353.6 L639.92,1355.48 L641.8,1356.4 L639.92,1357.32 L639,1359.2 L638.08,1357.32 L636.2,1356.4 L638.08,1355.48 Z"/>
<line class="n" x1="453.2" y1="1391.5" x2="645.1" y2="1391.5"/>
<line class="k" x1="453.2" y1="1412" x2="645.1" y2="1412"/>
<line class="n" x1="453.5" y1="1391.1" x2="453.5" y2="1412.4"/>
<line class="n" x1="645.5" y1="1391.1" x2="645.5" y2="1412.4"/>
<line class="n" x1="464" y1="1413.5" x2="634.3" y2="1413.5"/>
<line class="g" x1="455" y1="1401.5" x2="643" y2="1401.5"/>
<circle class="fill" cx="459.3" cy="1401.6" r="3.9"/>
<circle class="fill" cx="639" cy="1401.6" r="3.9"/>
<ellipse class="ov" cx="477.2" cy="1396.9" rx="3.4" ry="2"/>
<ellipse class="ov" cx="477.2" cy="1405.8" rx="3.4" ry="2"/>
<ellipse class="ov" cx="497.76" cy="1396.9" rx="3.4" ry="2"/>
<ellipse class="ov" cx="497.76" cy="1405.8" rx="3.4" ry="2"/>
<ellipse class="ov" cx="518.32" cy="1396.9" rx="3.4" ry="2"/>
<ellipse class="ov" cx="518.32" cy="1405.8" rx="3.4" ry="2"/>
<ellipse class="ov" cx="538.88" cy="1396.9" rx="3.4" ry="2"/>
<ellipse class="ov" cx="538.88" cy="1405.8" rx="3.4" ry="2"/>
<ellipse class="ov" cx="559.44" cy="1396.9" rx="3.4" ry="2"/>
<ellipse class="ov" cx="559.44" cy="1405.8" rx="3.4" ry="2"/>
<ellipse class="ov" cx="580" cy="1396.9" rx="3.4" ry="2"/>
<ellipse class="ov" cx="580" cy="1405.8" rx="3.4" ry="2"/>
<ellipse class="ov" cx="600.56" cy="1396.9" rx="3.4" ry="2"/>
<ellipse class="ov" cx="600.56" cy="1405.8" rx="3.4" ry="2"/>
<ellipse class="ov" cx="621.12" cy="1396.9" rx="3.4" ry="2"/>
<ellipse class="ov" cx="621.12" cy="1405.8" rx="3.4" ry="2"/>
<path class="n" d="M447.9,1171 L450.5,1173.5 V1184 L447.9,1186.5"/>
<path class="n" d="M447.9,1398.5 L450.5,1401 V1411 L447.9,1413.5"/>
<line class="d" x1="689.5" y1="1244.3" x2="689.5" y2="1339.8"/>
<polygon class="fill" points="689.5,1244.3 687.3,1255.5 689.5,1254.2 691.7,1255.5"/>
<polygon class="fill" points="689.5,1339.8 687.3,1328.6 689.5,1329.9 691.7,1328.6"/>
<line class="d" x1="730.9" y1="1158.5" x2="835.1" y2="1158.5"/>
<line class="d" x1="730.9" y1="1426.5" x2="835.1" y2="1426.5"/>
<line class="n" x1="754.5" y1="1162" x2="754.5" y2="1423"/>
<line class="n" x1="765.5" y1="1159.3" x2="765.5" y2="1425.7"/>
<path class="n" d="M754,1162.5 Q752.8,1160.5 755.5,1159.3 H765.6"/>
<path class="n" d="M754,1422.5 Q752.8,1424.5 755.5,1425.7 H765.6"/>
<rect class="g" x="775.6" y="1157.5" width="10.7" height="2"/>
<rect class="g" x="775.6" y="1426.2" width="10.7" height="2"/>
<rect class="n" x="835.5" y="1144.6" width="8.6" height="295.8"/>
<rect class="n" x="827.5" y="1171.7" width="5.3" height="14.9"/>
<rect class="n" x="827.5" y="1263.8" width="5.3" height="57.2"/>
<rect class="n" x="827.5" y="1398.4" width="5.3" height="16.1"/>
<rect class="n" x="788.6" y="1210.7" width="19.7" height="36.4"/>
<rect class="n" x="788.6" y="1338.7" width="19.7" height="35.7"/>
<path class="g" d="M805,1229 L806,1225.5 L807,1229 Z"/>
<path class="g" d="M805,1357 L806,1353.5 L807,1357 Z"/>
<path class="g" d="M844.3,1284.4 L847.7,1287 V1298 L844.3,1300.4"/>
<path class="fill" d="M827.5,1288 L832.8,1292.4 L827.5,1296.8 Z"/>
<line class="d" x1="733.5" y1="1158.9" x2="733.5" y2="1426.8"/>
<polygon class="fill" points="733.5,1158.9 731.3,1170.1 733.5,1168.8 735.7,1170.1"/>
<polygon class="fill" points="733.5,1426.8 731.3,1415.6 733.5,1416.9 735.7,1415.6"/>
<rect class="k" x="927.4" y="1140.8" width="232.9" height="296"/>
<path class="k" d="M941,1140.8 V1153.3 Q941,1155.6 943.3,1155.6 H1144 Q1146.3,1155.6 1146.3,1153.3 V1140.8"/>
<path class="k" d="M941,1436.8 V1424.8 Q941,1422.5 943.3,1422.5 H1144 Q1146.3,1422.5 1146.3,1424.8 V1436.8"/>
<line class="k" x1="943" y1="1155.6" x2="943" y2="1422.5"/>
<line class="n" x1="1144.5" y1="1155.6" x2="1144.5" y2="1422.5"/>
<circle class="fill" cx="968.5" cy="1161.8" r="4.2"/>
<circle class="fill" cx="1118.6" cy="1161.8" r="4.2"/>
<circle class="fill" cx="968.5" cy="1415.8" r="4.2"/>
<circle class="fill" cx="1118.6" cy="1415.8" r="4.2"/>
<circle class="n" cx="968.5" cy="1196.9" r="3.3"/>
<line class="g" x1="963.3" y1="1196.5" x2="973.7" y2="1196.5"/>
<line class="g" x1="968.5" y1="1191.7" x2="968.5" y2="1202.1"/>
<circle class="n" cx="1118.6" cy="1196.9" r="3.3"/>
<line class="g" x1="1113.4" y1="1196.5" x2="1123.8" y2="1196.5"/>
<line class="g" x1="1118.5" y1="1191.7" x2="1118.5" y2="1202.1"/>
<circle class="n" cx="968.5" cy="1380.8" r="3.3"/>
<line class="g" x1="963.3" y1="1380.5" x2="973.7" y2="1380.5"/>
<line class="g" x1="968.5" y1="1375.6" x2="968.5" y2="1386"/>
<circle class="n" cx="1118.6" cy="1380.8" r="3.3"/>
<line class="g" x1="1113.4" y1="1380.5" x2="1123.8" y2="1380.5"/>
<line class="g" x1="1118.5" y1="1375.6" x2="1118.5" y2="1386"/>
<line class="d" x1="968.5" y1="1119.6" x2="968.5" y2="1196.9"/>
<line class="d" x1="1118.5" y1="1119.6" x2="1118.5" y2="1196.9"/>
<line class="d" x1="968.4" y1="1121.5" x2="1118.6" y2="1121.5"/>
<polygon class="fill" points="968.4,1121.5 979.6,1119.3 978.3,1121.5 979.6,1123.7"/>
<polygon class="fill" points="1118.6,1121.5 1107.4,1119.3 1108.7,1121.5 1107.4,1123.7"/>
<line class="d" x1="900" y1="1196.5" x2="968.4" y2="1196.5"/>
<line class="d" x1="900" y1="1380.5" x2="968.4" y2="1380.5"/>
<line class="d" x1="902.5" y1="1196.9" x2="902.5" y2="1380.8"/>
<polygon class="fill" points="902.5,1196.9 900.3,1208.1 902.5,1206.8 904.7,1208.1"/>
<polygon class="fill" points="902.5,1380.8 900.3,1369.6 902.5,1370.9 904.7,1369.6"/>
<rect class="g" x="1146.6" y="1283" width="5" height="12"/>
<text transform="matrix(0.8197,0,0,1,193.26,284.90)" font-size="24.29">Вид снизу</text>
<text transform="matrix(0,-0.7604,1,0,103.54,382.65)" font-size="26.43">36</text>
<text transform="matrix(0,-0.7700,1,0,374.74,367.29)" font-size="25.72">120</text>
<text transform="matrix(0.7787,0,0,1,216.34,402.04)" font-size="26.01">402</text>
<text transform="matrix(0.7989,0,0,1,525.28,284.80)" font-size="24.58">Вид сверху</text>
<text transform="matrix(0.8413,0,0,1,166.64,469.90)" font-size="23.85">Вид без двери</text>
<text transform="matrix(0,-0.7787,1,0,93.94,623.60)" font-size="25.72">265</text>
<text transform="matrix(0.7813,0,0,1,215.86,704.15)" font-size="25.16">440</text>
<text transform="matrix(0.8258,0,0,1,85.44,765.00)" font-size="24.44">Рисунок 3. ЩРв-18з-3</text>
<text transform="matrix(0.8497,0,0,1,463.65,470.40)" font-size="23.56">Вид без панели</text>
<text transform="matrix(0.7985,0,0,1,726.65,471.30)" font-size="25.02">Вид сбоку</text>
<text transform="matrix(0,-0.7900,1,0,740.90,627.51)" font-size="25.52">227</text>
<text transform="matrix(0.7781,0,0,1,989.25,470.50)" font-size="25.75">Вид сзади</text>
<text transform="matrix(0.7586,0,0,1,1019.64,509.73)" font-size="26.57">330</text>
<text transform="matrix(0,-0.8430,1,0,890.34,626.55)" font-size="26.09">115</text>
<text transform="matrix(0.8224,0,0,1,223.47,907.70)" font-size="24.00">Вид снизу</text>
<text transform="matrix(0,-0.7818,1,0,130.14,1022.35)" font-size="25.58">36</text>
<text transform="matrix(0,-0.7845,1,0,400.25,994.95)" font-size="24.59">120</text>
<text transform="matrix(0.7775,0,0,1,244.91,1045.80)" font-size="25.52">272</text>
<text transform="matrix(0.7909,0,0,1,535.31,907.90)" font-size="24.44">Вид сверху</text>
<text transform="matrix(0.8683,0,0,1,197.47,1087.90)" font-size="22.69">Вид без двери</text>
<text transform="matrix(0,-0.7432,1,0,103.44,1301.73)" font-size="26.15">395</text>
<text transform="matrix(0.7799,0,0,1,248.54,1468.54)" font-size="26.01">310</text>
<text transform="matrix(0.7938,0,0,1,85.34,1534.20)" font-size="25.31">Рисунок 4. ЩРв-24з-3</text>
<text transform="matrix(0.8667,0,0,1,489.79,1087.40)" font-size="22.55">Вид без панели</text>
<text transform="matrix(0,-0.7821,1,0,686.65,1316.68)" font-size="25.16">126</text>
<text transform="matrix(0.8465,0,0,1,748.30,1088.70)" font-size="22.98">Вид сбоку</text>
<text transform="matrix(0,-0.7726,1,0,724.94,1315.25)" font-size="25.72">357</text>
<text transform="matrix(0.8055,0,0,1,993.48,1088.10)" font-size="24.44">Вид сзади</text>
<text transform="matrix(0.8240,0,0,1,1027.62,1115.56)" font-size="23.89">200</text>
<text transform="matrix(0,-0.7760,1,0,896.65,1310.08)" font-size="25.16">245</text>
</svg>
</body></html>
